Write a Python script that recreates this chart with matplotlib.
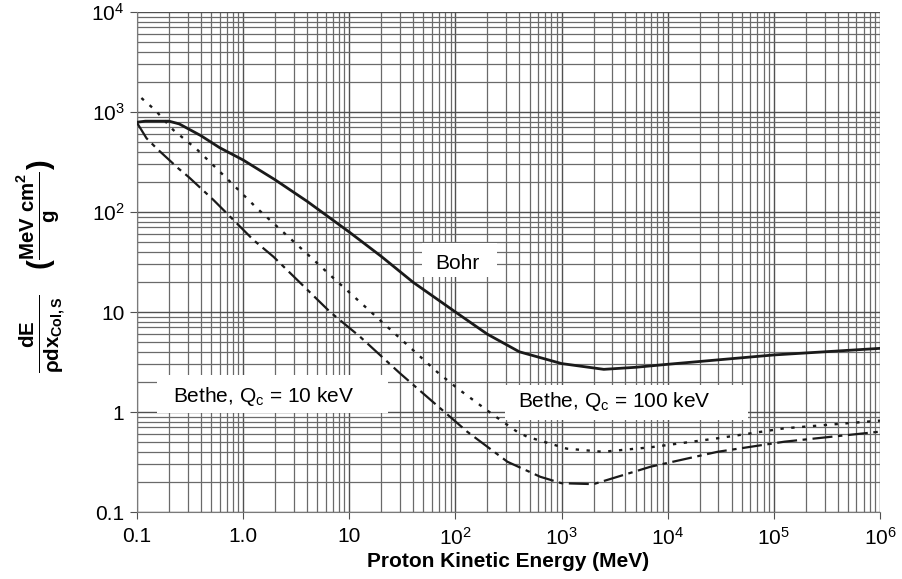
import matplotlib
matplotlib.use("Agg")
import matplotlib.pyplot as plt
from matplotlib.patches import Rectangle
from matplotlib.ticker import LogLocator, NullFormatter

plt.rcParams['font.family'] = ['Liberation Sans', 'DejaVu Sans']
plt.rcParams['mathtext.fontset'] = 'custom'
plt.rcParams['mathtext.rm'] = 'Liberation Sans'
plt.rcParams['mathtext.it'] = 'Liberation Sans:italic'
plt.rcParams['mathtext.bf'] = 'Liberation Sans:bold'

# proton kinetic energy (MeV) and mass collision stopping power (MeV cm2/g)
bohr_E = [0.1, 0.12, 0.2, 0.25, 0.4, 0.6, 1.0, 2.0, 4.0, 10, 20, 40, 100,
          200, 400, 1000, 2500, 5000, 1e4, 1e5, 1e6]
bohr_S = [790, 810, 810, 760, 580, 440, 331, 210, 128, 63, 36, 19.8, 10,
          6.0, 4.0, 3.05, 2.67, 2.8, 3.0, 3.72, 4.33]

bethe100_E = [0.11, 0.148, 0.22, 0.366, 0.70, 1.35, 4.29, 6.6, 13.6, 66.8, 104,
              229, 380, 473, 1122, 2450, 6920, 29500, 1.26e5, 1e6]
bethe100_S = [1380, 1047, 660, 424, 217, 109, 35.7, 23.4, 11.7, 2.53, 1.73,
              0.93, 0.636, 0.566, 0.43, 0.40, 0.444, 0.546, 0.687, 0.82]

bethe10_E = [0.1, 0.123, 0.153, 0.245, 0.305, 0.525, 1.25, 1.93, 6.6, 12.6, 30,
             129, 309, 630, 1000, 2000, 6920, 29500, 1.26e5, 1e6]
bethe10_S = [780, 546, 433, 273, 225, 132, 52.5, 35.7, 10, 5.67, 2.44,
             0.636, 0.318, 0.225, 0.194, 0.19, 0.284, 0.40, 0.505, 0.636]

x_ticks = [0.1, 1, 10, 1e2, 1e3, 1e4, 1e5, 1e6]
x_labels = ['0.1', '1.0', '10', r'$\mathregular{10^{2}}$', r'$\mathregular{10^{3}}$',
            r'$\mathregular{10^{4}}$', r'$\mathregular{10^{5}}$', r'$\mathregular{10^{6}}$']
y_ticks = [0.1, 1, 10, 1e2, 1e3, 1e4]
y_labels = ['0.1', '1', '10', r'$\mathregular{10^{2}}$', r'$\mathregular{10^{3}}$',
            r'$\mathregular{10^{4}}$']

fig = plt.figure(figsize=(9.03, 5.79), dpi=100)
ax = fig.add_axes([137 / 903, 67 / 579, 743 / 903, 500 / 579])
ax.set_xscale('log')
ax.set_yscale('log')
ax.set_xlim(0.1, 1e6)
ax.set_ylim(0.1, 1e4)

ax.xaxis.set_minor_locator(LogLocator(base=10, subs=range(2, 10), numticks=20))
ax.yaxis.set_minor_locator(LogLocator(base=10, subs=range(2, 10), numticks=20))
ax.xaxis.set_minor_formatter(NullFormatter())
ax.yaxis.set_minor_formatter(NullFormatter())
ax.grid(which='major', color='#505050', lw=1.0, zorder=1)
ax.grid(which='minor', color='#6a6a6a', lw=0.9, zorder=1)
ax.set_axisbelow(True)

ax.plot(bohr_E, bohr_S, color='#1a1a1a', lw=2.0, zorder=4)
ax.plot(bethe100_E, bethe100_S, color='#1a1a1a', lw=1.7, dashes=(1.4, 3.2), zorder=4)
ax.plot(bethe10_E, bethe10_S, color='#1a1a1a', lw=1.6, dashes=(9, 2.5, 2, 2.5), zorder=4)

ax.set_xticks(x_ticks, x_labels)
ax.set_yticks(y_ticks, y_labels)
ax.tick_params(axis='both', which='major', labelsize=15, length=5, color='#505050')
ax.tick_params(axis='y', which='major', pad=4)
ax.tick_params(axis='x', which='major', pad=6)
ax.tick_params(axis='both', which='minor', length=0)
for side in ['top', 'right']:
    ax.spines[side].set_visible(False)
for side in ['left', 'bottom']:
    ax.spines[side].set_color('#7a7a7a')

ax.set_xlabel('Proton Kinetic Energy (MeV)', fontsize=15, fontweight='bold', labelpad=2)

fig.text(42 / 903, 1 - 266 / 579,
         r'$\mathbf{\frac{dE}{\rho dx_{Col,S}}\quad(\frac{MeV\ cm^{2}}{g})}$',
         rotation=90, fontsize=21, ha='center', va='center')

# white panels behind the curve labels (corner values in data units)
panels = [((48.9, 22.4), (249, 49)),
          ((0.1545, 0.977), (23.3, 2.34)),
          ((296, 0.83), (56900, 1.86))]
for (x0, y0), (x1, y1) in panels:
    ax.add_patch(Rectangle((x0, y0), x1 - x0, y1 - y0, facecolor='white',
                           edgecolor='none', zorder=2))

ax.text(104.5, 30.9, 'Bohr', fontsize=15, ha='center', va='center', zorder=3)
ax.text(0.219, 1.43, r'Bethe, Q$_{\mathregular{c}}$ = 10 keV', fontsize=15,
        ha='left', va='center', zorder=3)
ax.text(385, 1.26, r'Bethe, Q$_{\mathregular{c}}$ = 100 keV', fontsize=15,
        ha='left', va='center', zorder=3)

fig.savefig('out.png', dpi=100)
